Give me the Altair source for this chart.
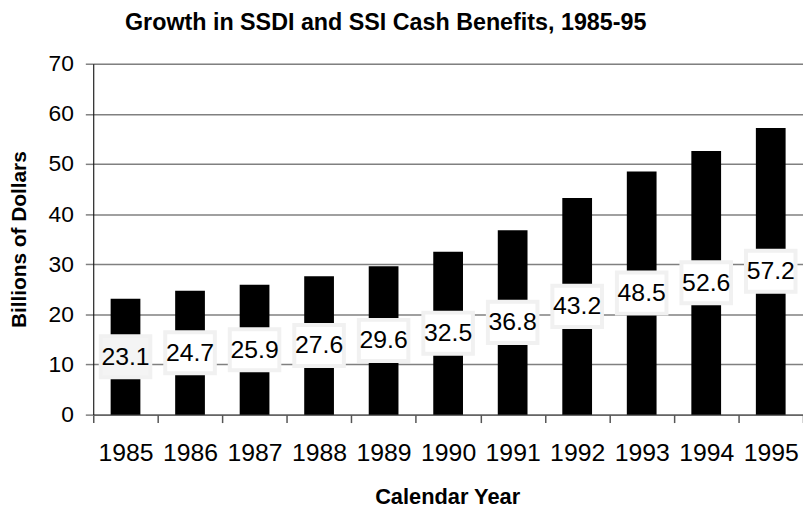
import altair as alt
import pandas as pd

years = ["1985", "1986", "1987", "1988", "1989", "1990", "1991", "1992", "1993", "1994", "1995"]
benefits = [23.1, 24.7, 25.9, 27.6, 29.6, 32.5, 36.8, 43.2, 48.5, 52.6, 57.2]
y_ticks = [0, 10, 20, 30, 40, 50, 60, 70]

df = pd.DataFrame({"year": years, "value": benefits})

FONT = "Liberation Sans"

x_enc = alt.X(
    "year:N",
    sort=years,
    scale=alt.Scale(paddingInner=0, paddingOuter=0),
    axis=alt.Axis(
        title="Calendar Year",
        titleFont=FONT, titleFontSize=22, titleFontWeight="bold", titleColor="black",
        titleX=357, titleY=83, titleBaseline="middle", titleAnchor="middle",
        labelFont=FONT, labelFontSize=25, labelColor="black", labelAngle=0,
        labelPadding=18, labelBaseline="top",
        tickBand="extent", tickSize=8, tickColor="#555555", tickWidth=1.5,
        domainColor="#555555", domainWidth=1.5, grid=False,
    ),
)

y_scale = alt.Scale(domain=[0, 70], nice=False)

bars = alt.Chart(df).mark_bar(size=30, color="black").encode(
    x=x_enc,
    y=alt.Y(
        "value:Q",
        scale=y_scale,
        axis=alt.Axis(
            title="Billions of Dollars",
            titleFont=FONT, titleFontSize=21, titleFontWeight="bold", titleColor="black",
            titleX=-74, titleY=177, titleBaseline="middle", titleAnchor="middle",
            values=y_ticks,
            labelFont=FONT, labelFontSize=23, labelColor="black", labelPadding=12,
            tickSize=8, tickColor="#808080", tickWidth=1.5,
            domainColor="black", domainWidth=1,
            gridColor="#808080", gridWidth=1.5, gridOpacity=1,
        ),
    ),
)

boxes = alt.Chart(df).transform_calculate(
    lo="datum.value / 2 - 4.1",
    hi="datum.value / 2 + 4.1",
).mark_bar(size=50, stroke="#f1f1f1", strokeWidth=4).encode(
    x=alt.X("year:N", sort=years),
    y=alt.Y("lo:Q", scale=y_scale),
    y2="hi:Q",
    fill=alt.condition(alt.datum.year == "1985", alt.value("#f4f4f4"), alt.value("white")),
)

labels = alt.Chart(df).transform_calculate(
    mid="datum.value / 2",
).mark_text(font=FONT, fontSize=25, color="black", baseline="middle", align="center").encode(
    x=alt.X("year:N", sort=years),
    y=alt.Y("mid:Q", scale=y_scale),
    text=alt.Text("value:Q", format=".1f"),
)

chart = alt.layer(bars, boxes, labels).properties(
    width=716,
    height=354,
    title=alt.Title(
        "Growth in SSDI and SSI Cash Benefits, 1985-95",
        font=FONT, fontSize=23.5, fontWeight="bold", color="black",
        anchor="middle", dx=-63, offset=0, baseline="alphabetic",
    ),
    padding={"left": 86, "top": 54, "right": 0, "bottom": 95},
    autosize=alt.AutoSizeParams(type="none"),
).configure_view(stroke=None).configure(background="white")

chart.save("out.html", embed_options={"renderer": "svg", "actions": False})
